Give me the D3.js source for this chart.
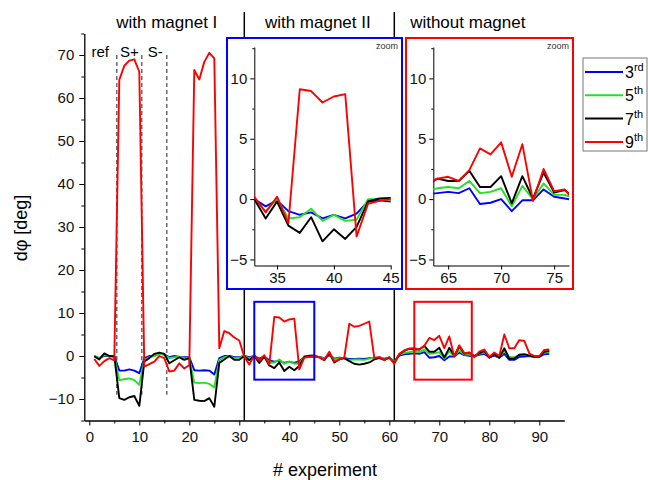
<!DOCTYPE html>
<html><head><meta charset="utf-8">
<script src="https://cdn.jsdelivr.net/npm/d3@7"></script>
<style>body{margin:0;background:#fff}svg{display:block;font-family:"Liberation Sans",Arial,sans-serif}</style>
</head><body><svg id="c" width="648" height="480"></svg>
<script>
const experiments = d3.range(1, 93);
const harm3 = [0,-0.5,0,0,0,-3.4,-3.4,-3.1,-3.4,-4.0,-0.5,0,0,0.6,0.4,-0.3,0,-0.2,-0.3,-0.3,
 -3.3,-3.4,-3.3,-3.4,-4.3,-0.5,0,0,-0.3,-0.3,0,-0.3,0,-0.6,-0.1,-1.0,-1.3,-1.1,-1.6,-1.3,
 -1.6,-1.2,-0.2,-0.1,-0.2,-0.2,-0.5,0.2,-0.6,-0.4,-0.5,-0.7,-0.7,-0.6,-0.7,-0.5,-0.5,-0.4,-0.6,-0.4,
 -1.2,0.1,0.4,0.5,0.6,0.5,0.9,-0.4,-0.3,0,-1.0,-0.1,-0.1,0.8,0.2,0.05,
 -0.1,0.3,0.5,-0.3,0.1,-0.4,0.5,-0.9,-0.9,-0.2,-0.1,0,-0.2,-0.2,0.4,0.5];
const harm5 = [0,-0.5,0.2,0,-0.1,-5.6,-5.4,-5.2,-5.6,-6.7,-0.9,-0.3,0,0.6,0.2,-0.5,-0.3,-0.2,-0.5,-0.5,
 -6.2,-6.3,-6.2,-6.5,-7.3,-0.9,-0.3,0,-0.5,-0.4,0,-0.5,0,-1.0,0,-1.6,-1.5,-0.8,-1.8,-1.3,
 -1.8,-1.7,0,0,-0.1,-0.2,-0.6,0.4,-0.8,-0.5,-0.6,-0.9,-0.8,-0.8,-0.9,-0.6,-0.4,-0.4,-0.7,-0.3,
 -1.3,0.3,0.7,0.9,1.0,0.9,1.5,0.5,0.6,0.9,-0.6,1.1,0,1.3,0.35,0.35,
 0,0.5,0.8,-0.2,0.3,-0.3,1.2,-0.3,-0.3,0.2,0.3,0.1,-0.1,-0.1,0.8,0.9];
const harm7 = [-0.1,-0.8,0.6,0,-0.1,-9.8,-10.2,-9.6,-9.3,-11.6,-1.3,-0.5,0.5,0.8,0.5,-1.7,-1.0,-0.3,-0.9,-0.5,
 -10.2,-10.4,-10.5,-9.8,-11.8,-1.6,-0.8,0,-0.9,-0.9,0,-1.0,0,-1.6,-0.2,-2.2,-2.8,-1.5,-3.5,-2.5,
 -3.3,-2.3,-0.2,0.05,0.1,-0.3,-1.0,0.7,-1.5,-0.8,-0.5,-1.2,-1.8,-2.0,-1.8,-1.5,-0.8,-0.5,-0.9,-0.4,
 -1.6,0.4,1.2,1.7,1.5,1.5,2.35,1.0,1.0,1.9,-0.35,1.9,0.05,2.2,0.55,0.75,
 0,0.6,1.2,-0.4,0.4,-0.4,1.8,-0.6,-0.6,0.3,0.4,0.1,-0.2,-0.2,1.0,1.2];
const harm9 = [-0.7,-2.3,-1.2,-0.5,-1.0,64.2,67.5,68.7,69.0,66.1,-2.5,-1.9,-1.3,0,-0.5,-3.6,-3.4,-1.7,-2.9,-2.1,
 66.5,64.3,68.4,70.5,69.2,1.8,5.8,5.3,4.3,3.6,-0.2,-2.0,0.2,-1.1,0.2,-2.0,9.1,8.95,8.0,8.5,
 8.7,-3.1,-0.4,-0.15,0,-0.3,-0.9,1.0,-1.3,-0.8,-0.3,7.5,6.8,7.0,7.5,8.0,-0.5,-0.2,-1.0,-0.3,
 -1.8,0.5,1.3,1.7,1.85,1.5,2.4,4.2,3.7,4.7,1.85,4.55,-0.15,2.5,0.65,0.8,
 -0.3,1.0,1.5,-0.2,0.8,0,5.0,1.8,1.8,3.7,3.5,0.6,0,0,1.4,1.5];
const seriesNames = ["3rd","5th","7th","9th"];
const seriesColors = ["#0000ff","#22e022","#000000","#ff0000"];
const allSeries = [harm3, harm5, harm7, harm9];
const xTicks = [0,10,20,30,40,50,60,70,80,90];
const yTicks = [-10,0,10,20,30,40,50,60,70];
const phaseLabels = ["with magnet I","with magnet II","without magnet"];
const phaseCenters = [15.5, 45.7, 75.7];
const phaseBounds = [31, 61];
const stepLabels = ["ref","S+","S-"];
const stepPos = [2.2, 8, 13.2];
const stepBounds = [5.5, 10.5, 15.5];
const zoomBlue = [33, 45];
const zoomRed = [63.6, 76.4];
const zoomY = [-5.5, 12.6];
const insetYTicks = [-5,0,5,10];
const blueXTicks = [35,40,45];
const redXTicks = [65,70,75];

const svg = d3.select("#c");
const x = d3.scaleLinear([-1, 95], [84.3, 564.3]);
const y = d3.scaleLinear([-15, 75], [420.5, 33.5]);
const series = allSeries.map((vals, i) => ({name: seriesNames[i], color: seriesColors[i], pts: experiments.map((e, j) => [e, vals[j]])}));
const FONT = "Liberation Sans, Arial";

// main axes
const gx = svg.append("g").attr("transform", `translate(0,${y(-15)})`);
gx.call(d3.axisBottom(x).tickValues(d3.range(5, 95, 10)).tickSize(3).tickFormat(""));
gx.call(g => g.select(".domain").remove());
const gx2 = svg.append("g").attr("transform", `translate(0,${y(-15)})`)
  .call(d3.axisBottom(x).tickValues(xTicks).tickSize(5).tickSizeOuter(0).tickPadding(6));
gx2.selectAll("text").attr("font-size", 15).attr("font-family", FONT).attr("fill", "#111");
const gy = svg.append("g").attr("transform", `translate(${x(-1)},0)`);
gy.call(d3.axisLeft(y).tickValues(d3.range(-15, 80, 10)).tickSize(3).tickFormat(""));
gy.call(g => g.select(".domain").remove());
const gy2 = svg.append("g").attr("transform", `translate(${x(-1)},0)`)
  .call(d3.axisLeft(y).tickValues(yTicks).tickSize(5).tickSizeOuter(0).tickPadding(5));
gy2.selectAll("text").attr("font-size", 15).attr("font-family", FONT).attr("fill", "#111");
svg.selectAll(".domain").attr("stroke-width", 1.3);

svg.append("text").attr("x", 325).attr("y", 476).attr("text-anchor", "middle").attr("font-size", 18).text("# experiment");
svg.append("text").attr("transform", "translate(27,228) rotate(-90)").attr("text-anchor", "middle").attr("font-size", 18).text("dφ [deg]");

// dashed step lines
stepBounds.forEach(b => svg.append("line").attr("x1", x(b)).attr("x2", x(b)).attr("y1", y(70)).attr("y2", y(-9))
  .attr("stroke", "#555").attr("stroke-width", 1.3).attr("stroke-dasharray", "4,3"));
stepLabels.forEach((t, i) => svg.append("text").attr("x", x(stepPos[i])).attr("y", 57).attr("text-anchor", "middle").attr("font-size", 15).text(t));

// phase boundaries
phaseBounds.forEach(b => svg.append("line").attr("x1", x(b)).attr("x2", x(b)).attr("y1", 12).attr("y2", y(-15))
  .attr("stroke", "#000").attr("stroke-width", 1.5));
phaseLabels.forEach((t, i) => svg.append("text").attr("x", x(phaseCenters[i])).attr("y", 28).attr("text-anchor", "middle").attr("font-size", 17).text(t));

// main lines
const line = d3.line().x(d => x(d[0])).y(d => y(d[1]));
series.forEach(s => svg.append("path").attr("d", line(s.pts)).attr("fill", "none").attr("stroke", s.color).attr("stroke-width", 1.9).attr("stroke-linejoin", "round"));

// zoom rectangles in main
[[zoomBlue, "#0000ff"], [[65, 76.5], "#ff0000"]].forEach(([r, c]) => svg.append("rect")
  .attr("x", x(r[0])).attr("y", y(zoomY[1])).attr("width", x(r[1]) - x(r[0])).attr("height", y(zoomY[0]) - y(zoomY[1]))
  .attr("fill", "none").attr("stroke", c).attr("stroke-width", 2));

// insets
function inset(id, box, xd, xr, ticks, color) {
  svg.append("rect").attr("x", box[0]).attr("y", box[1]).attr("width", box[2]).attr("height", box[3])
    .attr("fill", "#fff").attr("stroke", color).attr("stroke-width", 2);
  const xs = d3.scaleLinear(xd, xr);
  const ys = d3.scaleLinear(zoomY, [265.5, 47]);
  svg.append("clipPath").attr("id", id).append("rect").attr("x", xr[0]).attr("y", 47).attr("width", xr[1] - xr[0]).attr("height", 218.5);
  const ax = svg.append("g").attr("transform", `translate(0,265.5)`).call(d3.axisBottom(xs).tickValues(ticks).tickSize(4).tickSizeOuter(0).tickPadding(3));
  ax.selectAll("text").attr("font-size", 15).attr("font-family", FONT).attr("fill", "#111");
  const ay0 = svg.append("g").attr("transform", `translate(${xr[0]},0)`).call(d3.axisLeft(ys).tickValues([-2.5,2.5,7.5,12.5]).tickSize(2).tickFormat(""));
  ay0.select(".domain").remove();
  const ay = svg.append("g").attr("transform", `translate(${xr[0]},0)`).call(d3.axisLeft(ys).tickValues(insetYTicks).tickSize(4).tickSizeOuter(0).tickPadding(3));
  ay.selectAll("text").attr("font-size", 15).attr("font-family", FONT).attr("fill", "#111");
  const l = d3.line().x(d => xs(d[0])).y(d => ys(d[1]));
  const g = svg.append("g").attr("clip-path", `url(#${id})`);
  series.forEach(s => g.append("path").attr("d", l(s.pts)).attr("fill", "none").attr("stroke", s.color).attr("stroke-width", 1.9).attr("stroke-linejoin", "round"));
  svg.append("text").attr("x", box[0] + box[2] - 4).attr("y", box[1] + 11).attr("text-anchor", "end").attr("font-size", 9).attr("fill", "#333").text("zoom");
}
inset("cb", [227, 38, 175, 251], zoomBlue, [254.3, 390.7], blueXTicks, "#0000ff");
inset("cr", [406, 38, 167, 251], zoomRed, [433.3, 569], redXTicks, "#ff0000");

// legend
svg.append("rect").attr("x", 583).attr("y", 58).attr("width", 64).attr("height", 93).attr("fill", "#fff").attr("stroke", "#777").attr("stroke-width", 1);
series.forEach((s, i) => {
  const yy = 72 + i * 23.3;
  svg.append("line").attr("x1", 585).attr("x2", 623).attr("y1", yy).attr("y2", yy).attr("stroke", s.color).attr("stroke-width", 2);
  const t = svg.append("text").attr("x", 625).attr("y", yy + 6).attr("font-size", 16);
  t.append("tspan").text(s.name[0]);
  t.append("tspan").attr("font-size", 11).attr("dy", -7).text(s.name.slice(1));
});
</script></body></html>
